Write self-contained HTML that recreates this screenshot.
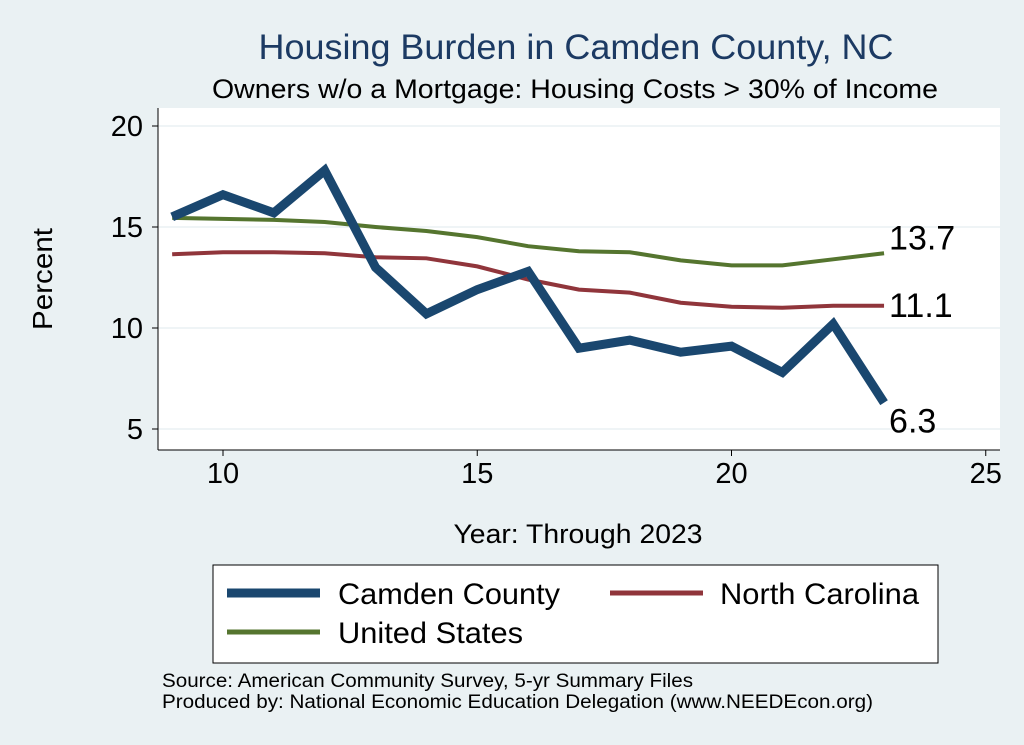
<!DOCTYPE html>
<html><head><meta charset="utf-8"><style>
html,body{margin:0;padding:0;background:#eaf1f3;}
svg{display:block;font-family:"Liberation Sans",sans-serif;}
</style></head><body>
<svg id="chart" width="1024" height="745" viewBox="0 0 1024 745">
<rect x="0" y="0" width="1024" height="745" fill="#eaf1f3"/>
<text x="576" y="59" text-anchor="middle" font-size="35" textLength="635" lengthAdjust="spacingAndGlyphs" fill="#1c3a63">Housing Burden in Camden County, NC</text>
<text x="575" y="98" text-anchor="middle" font-size="27" textLength="726" lengthAdjust="spacingAndGlyphs" fill="#000">Owners w/o a Mortgage: Housing Costs &gt; 30% of Income</text>
<rect x="158" y="108" width="842" height="342" fill="#ffffff"/>
<g id="grid"></g>
<line x1="158" y1="108" x2="158" y2="450" stroke="#000" stroke-width="1"/>
<line x1="158" y1="450" x2="1000" y2="450" stroke="#000" stroke-width="1"/>
<g id="yticks"></g>
<g id="xticks"></g>
<text x="52" y="279" text-anchor="middle" font-size="28" textLength="102" lengthAdjust="spacingAndGlyphs" transform="rotate(-90 52 279)">Percent</text>
<text x="578" y="543" text-anchor="middle" font-size="27" textLength="249" lengthAdjust="spacingAndGlyphs">Year: Through 2023</text>
<g id="series"></g>
<g>
<rect x="213" y="565" width="725" height="98" fill="#fff" stroke="#000" stroke-width="1"/>
<line x1="227" y1="593" x2="320" y2="593" stroke="#1a476f" stroke-width="9"/>
<text x="338" y="604" font-size="30" textLength="222" lengthAdjust="spacingAndGlyphs">Camden County</text>
<line x1="610" y1="593" x2="703" y2="593" stroke="#90353b" stroke-width="5"/>
<text x="720" y="604" font-size="30" textLength="199" lengthAdjust="spacingAndGlyphs">North Carolina</text>
<line x1="227" y1="632" x2="320" y2="632" stroke="#55752f" stroke-width="5"/>
<text x="338" y="643" font-size="30" textLength="185" lengthAdjust="spacingAndGlyphs">United States</text>
</g>
<text x="162" y="687" font-size="19" textLength="531" lengthAdjust="spacingAndGlyphs">Source: American Community Survey, 5-yr Summary Files</text>
<text x="162" y="708" font-size="19" textLength="711" lengthAdjust="spacingAndGlyphs">Produced by: National Economic Education Delegation (www.NEEDEcon.org)</text>
</svg>
<script>
const years=[9,10,11,12,13,14,15,16,17,18,19,20,21,22,23];
const camden=[15.5,16.6,15.7,17.8,13.0,10.7,11.9,12.8,9.0,9.4,8.8,9.1,7.8,10.2,6.3];
const nc=[13.65,13.75,13.75,13.7,13.5,13.45,13.05,12.4,11.9,11.75,11.25,11.05,11.0,11.1,11.1];
const us=[15.45,15.4,15.35,15.25,15.0,14.8,14.5,14.05,13.8,13.75,13.35,13.1,13.1,13.4,13.7];
const yTicks=[5,10,15,20];
const xTicks=[10,15,20,25];
const endLabels=["6.3","11.1","13.7"];
const NS="http://www.w3.org/2000/svg";
const sx=v=>223+(v-10)*50.85;
const sy=v=>429-(v-5)*20.2;
function mk(tag,attrs,parent){const e=document.createElementNS(NS,tag);for(const k in attrs)e.setAttribute(k,attrs[k]);parent.appendChild(e);return e;}
const grid=document.getElementById('grid'),yt=document.getElementById('yticks'),xt=document.getElementById('xticks'),ser=document.getElementById('series');
yTicks.forEach(t=>{
 const g=mk('line',{x1:158,x2:1000,y1:sy(t),y2:sy(t),stroke:'#eaf1f3','stroke-width':1.5},grid);
 
 
 const l=mk('line',{x1:152,x2:158,y1:sy(t),y2:sy(t),stroke:'#000'},yt);
 
 
 const tx=mk('text',{x:143,y:sy(t)+10,'text-anchor':'end','font-size':29},yt);tx.textContent=t;
 
 
});
xTicks.forEach(t=>{
 const l=mk('line',{x1:sx(t),x2:sx(t),y1:450,y2:456,stroke:'#000'},xt);
 
 
 const tx=mk('text',{x:sx(t),y:483,'text-anchor':'middle','font-size':29},xt);tx.textContent=t;
 
 
});
function line(vals,color,w,name){
 const p=mk('polyline',{points:vals.map((v,i)=>sx(years[i])+','+sy(v)).join(' '),fill:'none',stroke:color,'stroke-width':w,'stroke-linejoin':'miter'},ser);
 
 
}
line(nc,'#90353b',4,'line-north-carolina');
line(us,'#55752f',4,'line-united-states');
line(camden,'#1a476f',9,'line-camden-county');
const n=years.length-1;
[[camden,endLabels[0],30,'end-label-camden'],[nc,endLabels[1],11,'end-label-nc'],[us,endLabels[2],-4,'end-label-us']].forEach(([a,s,dy,nm])=>{
 const tx=mk('text',{x:sx(years[n])+5,y:sy(a[n])+dy,'font-size':34},ser);tx.textContent=s;
 
 
});
</script>
</body></html>
